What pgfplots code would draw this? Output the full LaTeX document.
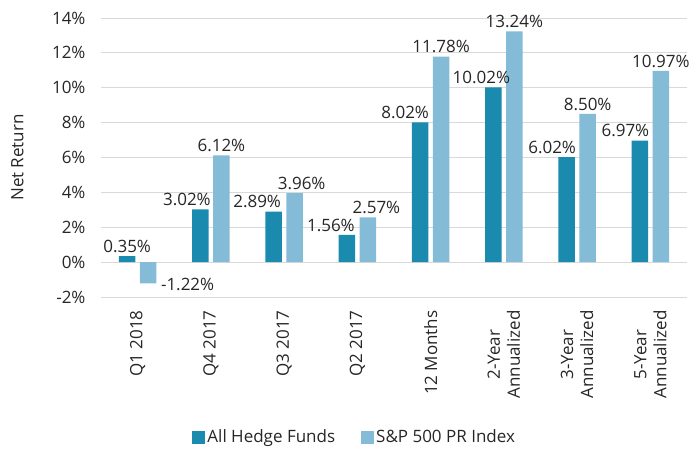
\documentclass[border=0pt]{standalone}
\usepackage{fontspec}
\setmainfont{Open Sans}
\usepackage{pgfplots}
\usepackage{pgfplotstable}
\pgfplotsset{compat=1.18}
\definecolor{darkbar}{RGB}{26,138,174}
\definecolor{lightbar}{RGB}{132,188,216}
\definecolor{gridc}{RGB}{217,217,217}
\definecolor{txt}{RGB}{38,38,38}

\pgfplotstableread{
x y dx dy
0 0.35 0 0
1 3.02 -13.5 0
2 2.89 -16.5 0
3 1.56 -16 0
4 8.02 -15 0
5 10.02 -12 0
6 6.02 -14.5 0
7 6.97 -14.5 0
}\hedge

\pgfplotstableread{
x y dx dy
0 -1.22 39.5 9
1 6.12 0 0
2 3.96 7 0
3 2.57 8.5 0
4 11.78 0 0
5 13.24 0 0
6 8.50 0 0
7 10.97 0 0
}\spx

\begin{document}
\begin{tikzpicture}[font=\fontsize{17bp}{20bp}\selectfont, text=txt]
\useasboundingbox (-101bp,-152bp) rectangle (591bp,297bp);
\begin{axis}[
  at={(0,0)}, anchor=south west,
  scale only axis, width=586bp, height=279bp,
  xmin=-0.5, xmax=7.5, ymin=-2, ymax=14,
  ytick={-2,0,...,14},
  xtick={0,...,7},
  xticklabels={Q1 2018, Q4 2017, Q3 2017, Q2 2017, 12 Months, {2-Year\\Annualized}, {3-Year\\Annualized}, {5-Year\\Annualized}},
  xticklabel style={yshift=-10bp, rotate=90, anchor=east, align=center, text=txt},
  yticklabel={\pgfmathprintnumber{\tick}\%},
  yticklabel style={xshift=-12bp, text=txt},
  /pgf/number format/assume math mode=true,
  axis line style={draw=none},
  major tick length=0pt,
  ymajorgrids,
  grid style={gridc, line width=0.9bp},
  ylabel={Net Return},
  ylabel style={at={(axis description cs:-0.1425,0.5)}, anchor=center, text=txt},
  ybar, bar width=16.5bp,
  legend style={at={(0.433,-0.502)}, anchor=center, draw=none, fill=none, legend columns=2,
    font=\fontsize{17bp}{20bp}\selectfont, text=txt,
    /tikz/every even column/.append style={column sep=24bp}},
  legend image code/.code={\fill[#1] (0bp,-6.5bp) rectangle (13bp,6.5bp);},
]
\addplot[fill=darkbar, draw=none, bar shift=-10.5bp,
  visualization depends on={\thisrow{dx} \as \dx},
  visualization depends on={\thisrow{dy} \as \dy},
  nodes near coords={\pgfmathprintnumber[fixed,fixed zerofill,precision=2]{\pgfplotspointmeta}\%},
  nodes near coords style={font=\fontsize{17bp}{20bp}\selectfont, text=txt, xshift=\dx bp, yshift=\dy bp},
  ] table[x=x, y=y] {\hedge};
\addlegendentry{All Hedge Funds}
\addplot[fill=lightbar, draw=none, bar shift=10.5bp,
  visualization depends on={\thisrow{dx} \as \dx},
  visualization depends on={\thisrow{dy} \as \dy},
  nodes near coords={\pgfmathprintnumber[fixed,fixed zerofill,precision=2]{\pgfplotspointmeta}\%},
  nodes near coords style={font=\fontsize{17bp}{20bp}\selectfont, text=txt, xshift=\dx bp, yshift=\dy bp},
  ] table[x=x, y=y] {\spx};
\addlegendentry{S\&P 500 PR Index}
\end{axis}
\end{tikzpicture}
\end{document}
